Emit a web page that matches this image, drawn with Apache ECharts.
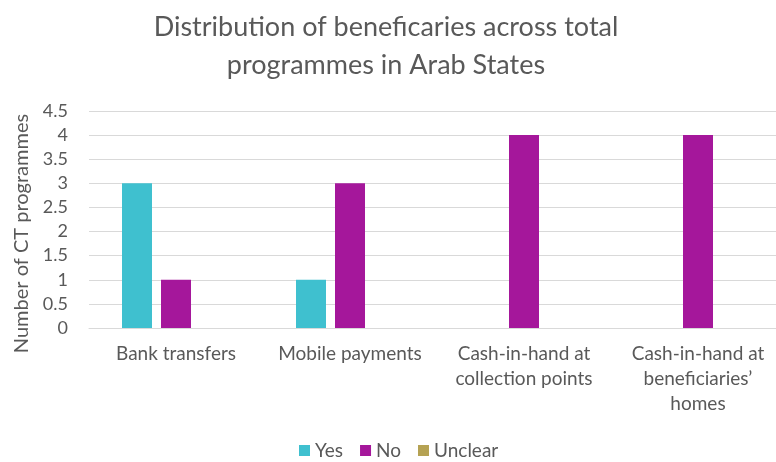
<!DOCTYPE html>
<html>
<head>
<meta charset="utf-8">
<style>
  html, body { margin: 0; padding: 0; background: #ffffff; overflow: hidden; }
  #chart { width: 800px; height: 462px; }
</style>
<script src="https://cdn.jsdelivr.net/npm/echarts@6/dist/echarts.min.js"></script>
</head>
<body>
<div id="chart"></div>
<script>
// Payment delivery methods (category labels, with line breaks as shown on the axis)
const categories = [
  'Bank transfers',
  'Mobile payments',
  'Cash-in-hand at\ncollection points',
  'Cash-in-hand at\nbeneficiaries\u2019\nhomes'
];

// Number of CT programmes per answer
const yesValues = [3, 1, 0, 0];
const noValues = [1, 3, 4, 4];
const unclearValues = [0, 0, 0, 0];

const seriesNames = ['Yes', 'No', 'Unclear'];
const seriesColors = ['#3fc0cf', '#a5179b', '#b5a253'];

const yTicks = { min: 0, max: 4.5, interval: 0.5 };

const FONT = 'Lato';
const TEXT = '#595959';

const chart = echarts.init(document.getElementById('chart'), null, { renderer: 'canvas' });

const seriesData = [yesValues, noValues, unclearValues];

chart.setOption({
  backgroundColor: '#ffffff',
  animation: false,
  title: {
    text: 'Distribution of beneficaries across total\nprogrammes in Arab States',
    left: 381,
    top: 3,
    textAlign: 'center',
    textStyle: {
      fontFamily: FONT,
      fontSize: 27,
      fontWeight: 'normal',
      color: TEXT,
      lineHeight: 38
    }
  },
  legend: {
    top: 436,
    left: 294,
    itemWidth: 11,
    itemHeight: 11,
    itemGap: 17,
    icon: 'rect',
    textStyle: { fontFamily: FONT, fontSize: 19, color: TEXT },
    data: seriesNames
  },
  grid: {
    left: 89,
    top: 111,
    width: 696,
    height: 217,
    containLabel: false
  },
  xAxis: {
    type: 'category',
    data: categories,
    axisLine: { lineStyle: { color: '#d9d9d9', width: 1 } },
    axisTick: { show: false },
    axisLabel: {
      fontFamily: FONT,
      fontSize: 19,
      color: TEXT,
      margin: 13,
      lineHeight: 25,
      interval: 0
    }
  },
  yAxis: {
    type: 'value',
    min: yTicks.min,
    max: yTicks.max,
    interval: yTicks.interval,
    name: 'Number of CT programmes',
    nameLocation: 'middle',
    nameGap: 56,
    nameRotate: 90,
    nameTextStyle: { fontFamily: FONT, fontSize: 20, color: TEXT, padding: [0, 28, 0, 0] },
    axisLine: { show: false },
    axisTick: { show: false },
    axisLabel: { fontFamily: FONT, fontSize: 18, color: TEXT, margin: 21 },
    splitLine: { lineStyle: { color: '#d9d9d9', width: 1 } }
  },
  series: seriesNames.map((name, i) => ({
    name: name,
    type: 'bar',
    data: seriesData[i],
    barWidth: 30,
    barGap: '30%',
    itemStyle: { color: seriesColors[i] }
  }))
});
</script>
</body>
</html>
